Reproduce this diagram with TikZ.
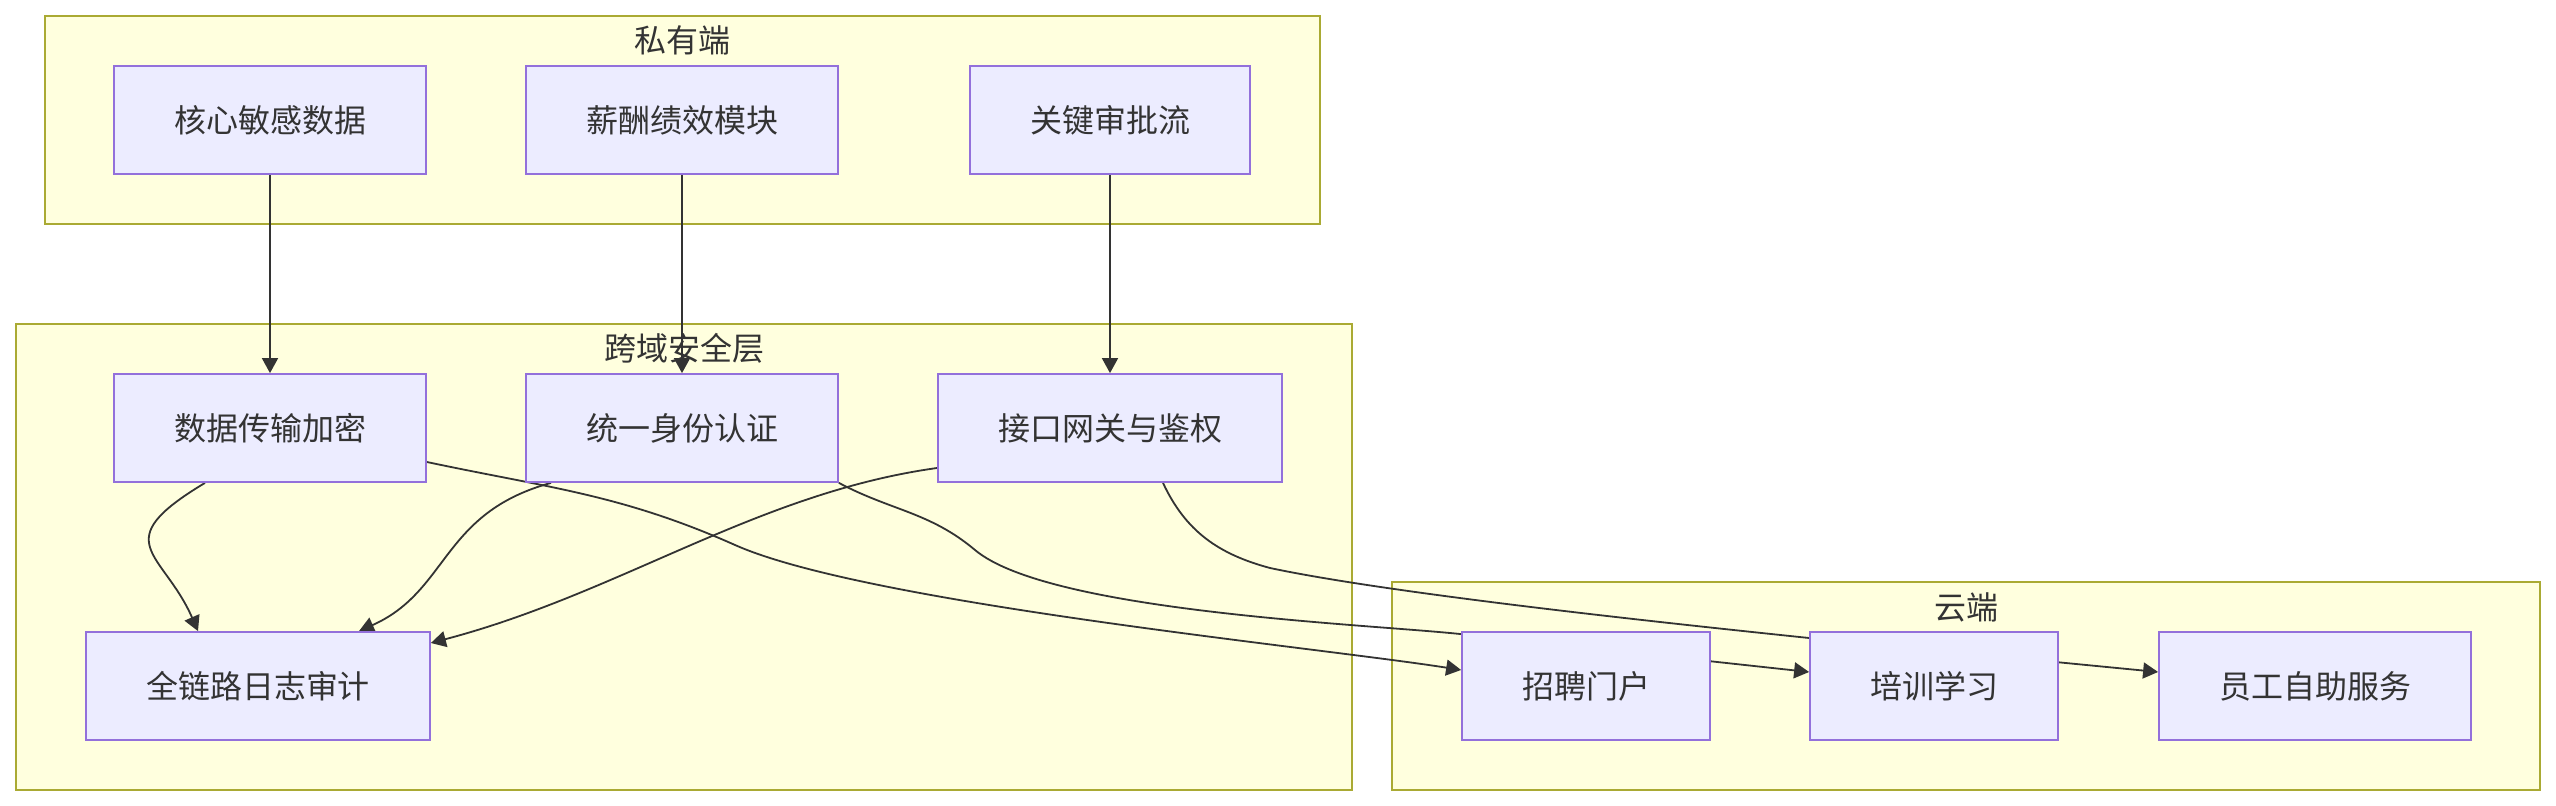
\documentclass[tikz,border=0pt]{standalone}
\usepackage{fontspec}
\setmainfont{Noto Sans CJK SC}
\usepackage{tikz}
\usetikzlibrary{calc,arrows.meta}
\definecolor{nodefill}{HTML}{ECECFF}
\definecolor{nodeline}{HTML}{9370DB}
\definecolor{grpfill}{HTML}{FFFFDE}
\definecolor{grpline}{HTML}{AAAA33}
\definecolor{ink}{HTML}{333333}
\pgfdeclarelayer{grp}
\pgfdeclarelayer{wire}
\pgfsetlayers{grp,wire,main}

\begin{document}
\begin{tikzpicture}[x=0.5pt,y=-0.5pt,
  box/.style={draw=nodeline,fill=nodefill,line width=0.9pt,text=ink,
    font=\fontsize{16pt}{19pt}\selectfont,minimum height=54pt,inner xsep=30pt,inner ysep=0pt},
  grp/.style={draw=grpline,fill=grpfill,line width=0.9pt},
  grplabel/.style={text=ink,font=\fontsize{16pt}{19pt}\selectfont},
  edge/.style={draw=ink,line width=0.9pt,-{Triangle[length=7.5pt,width=8pt]}}]
\useasboundingbox (0,0) rectangle (2556,806);
% ---- groups: private side, cross-domain layer, cloud ----
\begin{pgfonlayer}{grp}
  \draw[grp] (45,16) rectangle (1320,224);
  \node[grplabel] (tpriv) at (682,40) {私有端};
  \draw[grp] (16,324) rectangle (1352,790);
  \node[grplabel] (tsec) at (684,348) {跨域安全层};
  \draw[grp] (1392,582) rectangle (2540,790);
  \node[grplabel] (tcloud) at (1966,607) {云端};
\end{pgfonlayer}
% ---- nodes ----
\node[box] (hexin)    at (270,120)  {核心敏感数据};
\node[box] (xinchou)  at (682,120)  {薪酬绩效模块};
\node[box] (shenpi)   at (1110,120) {关键审批流};
\node[box] (jiami)    at (270,428)  {数据传输加密};
\node[box] (renzheng) at (682,428)  {统一身份认证};
\node[box] (wangguan) at (1110,428) {接口网关与鉴权};
\node[box] (rizhi)    at (258,686)  {全链路日志审计};
\node[box] (zhaopin)  at (1586,686) {招聘门户};
\node[box] (peixun)   at (1934,686) {培训学习};
\node[box] (zizhu)    at (2315,686) {员工自助服务};
% ---- edges (drawn below the nodes) ----
\begin{pgfonlayer}{wire}
  \draw[edge] (hexin.south) -- (jiami.north);
  \draw[edge] (xinchou.south) -- (renzheng.north);
  \draw[edge] (shenpi.south) -- (wangguan.north);
  % into the audit log
  \draw[edge] ($(jiami.south)+(-65,0)$) .. controls +(-100,60) and +(-35,-80) .. ($(rizhi.north)+(-60,0)$);
  \draw[edge] ($(renzheng.south)+(-131,0)$) .. controls +(-110,30) and +(90,-40) .. ($(rizhi.north)+(101,0)$);
  \draw[edge] ($(wangguan.west)+(0,40)$) .. controls +(-180,25) and +(190,-50) .. ($(rizhi.east)+(0,-43)$);
  % out to the cloud
  \draw[edge] ($(jiami.east)+(0,34)$) to[out=-12,in=156] (735,545)
    to[out=-24,in=171,looseness=0.5] ($(zhaopin.west)+(0,-16)$);
  \draw[edge] (renzheng.south east) to[out=-28,in=140] (975,550)
    to[out=-40,in=174,looseness=0.5] (1460,634) -- ($(peixun.west)+(0,-14)$);
  \draw[edge] ($(wangguan.south)+(53,0)$) to[out=-65,in=165] (1270,568)
    to[out=-12,in=174,looseness=0.6] (1809,638) -- ($(zizhu.west)+(0,-14)$);
\end{pgfonlayer}
\end{tikzpicture}
\end{document}
